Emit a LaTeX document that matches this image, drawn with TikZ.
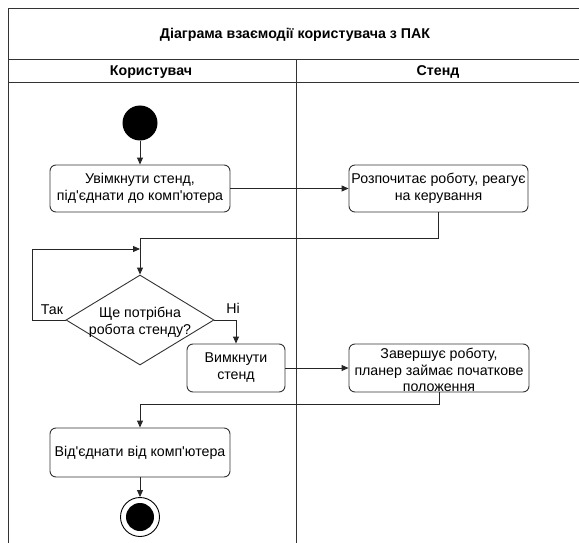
\documentclass[tikz,border=0pt]{standalone}
\usepackage{fontspec}
\setmainfont{Liberation Sans}[Ligatures=TeXOff]
\usetikzlibrary{arrows.meta,shapes.geometric}
\begin{document}
\begin{tikzpicture}[x=1pt,y=-1pt,
  lane/.style={line width=1pt,draw=black!80},
  act/.style={draw=black!80,line width=0.9pt,rounded corners=6pt,align=center,font=\fontsize{14.2}{17}\selectfont,inner sep=0pt},
  flow/.style={line width=0.9pt,draw=black!85,-{Triangle[length=7pt,width=6pt]}},
  plain/.style={line width=0.9pt,draw=black!85},
  lbl/.style={font=\fontsize{14.2}{17}\selectfont},
  head/.style={font=\bfseries\fontsize{14.2}{17}\selectfont}]
\useasboundingbox (0,0) rectangle (579,543);
% swimlane frame
\draw[lane] (579,9) -- (8,9) -- (8,543);
\draw[lane] (8,60) -- (579,60);
\draw[lane] (8,83) -- (579,83);
\draw[lane] (296,60) -- (296,543);
\node[head] (title) at (295,35) {Діаграма взаємодії користувача з ПАК};
\node[head] (h1) at (151,72) {Користувач};
\node[head] (h2) at (438,72) {Стенд};
% nodes
\node[circle,fill=black,minimum size=35pt,inner sep=0pt] (start) at (140,123) {};
\node[act,minimum width=180pt,minimum height=47pt] (b1) at (140,188.5) {Увімкнути стенд,\\під'єднати до комп'ютера};
\node[act,minimum width=179pt,minimum height=47pt] (b2) at (438.5,188.5) {Розпочитає роботу, реагує\\на керування};
\node[diamond,draw=black!80,line width=0.9pt,aspect=1.66,minimum width=148pt,minimum height=90pt,inner sep=0pt] (d) at (140,320) {};
\node[font=\fontsize{14.2}{17}\selectfont,align=center] (dt) at (140,322) {Ще потрібна\\робота стенду?};
\node[act,minimum width=98pt,minimum height=48pt] (b3) at (236,368) {Вимкнути\\стенд};
\node[act,minimum width=180pt,minimum height=48pt,font=\fontsize{14.2}{16.5}\selectfont] (b4) at (439,368) {};
\node[font=\fontsize{14.2}{16.8}\selectfont,align=center] (b4t) at (439,370) {Завершує роботу,\\планер займає початкове\\положення};
\node[act,minimum width=180pt,minimum height=49pt] (b5) at (140,452.5) {Від'єднати від комп'ютера};
\node[circle,draw=black,line width=0.9pt,minimum size=39pt,inner sep=0pt] (end) at (140,517) {};
\node[circle,fill=black,minimum size=28pt,inner sep=0pt] (endin) at (140,517) {};
% connectors
\coordinate (j1) at (140,238);
\coordinate (j2) at (140,249);
\coordinate (j3) at (140,404);
\draw[flow] (start) -- (b1);
\draw[flow] (b1) -- (b2);
\draw[plain] (b2.south) |- (j1);
\draw[flow] (j1) -- (d.north);
\draw[flow] (d.west) -- ++(-33,0) |- (j2);
\node[lbl] (tak) at (52,310) {Так};
\draw[flow] (d.east) -| (b3.north);
\node[lbl] (ni) at (233,308) {Ні};
\draw[flow] (b3) -- (b4);
\draw[plain] (b4.south) |- (j3);
\draw[flow] (j3) -- (b5.north);
\draw[flow] (b5) -- (end);
\end{tikzpicture}
\end{document}
